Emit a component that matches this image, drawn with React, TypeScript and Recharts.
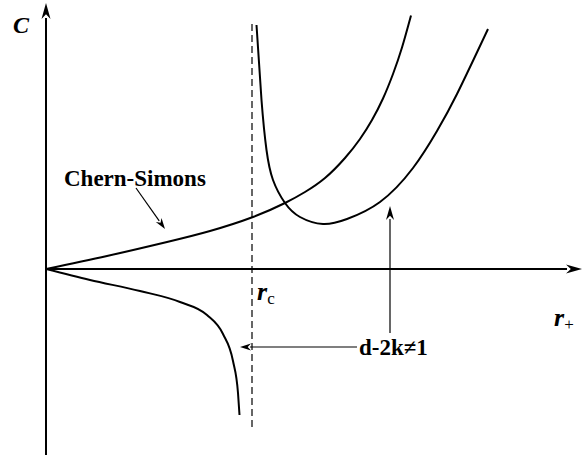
import { ComposedChart, Line, XAxis, YAxis, ReferenceLine, ReferenceDot } from 'recharts';

// curves, in (r+, C) units
const chernSimons = [
    { r: 0, c: 0 }, { r: 1.22, c: 0.26 }, { r: 2.42, c: 0.54 }, { r: 3.28, c: 0.76 },
    { r: 4.14, c: 1.04 }, { r: 4.78, c: 1.32 }, { r: 5.18, c: 1.54 }, { r: 5.58, c: 1.82 },
    { r: 5.98, c: 2.22 }, { r: 6.28, c: 2.6 }, { r: 6.52, c: 2.98 }, { r: 6.74, c: 3.41 },
    { r: 6.94, c: 3.9 }, { r: 7.12, c: 4.43 }, { r: 7.3, c: 5.07 },
];
const rightBranch = [
    { r: 4.21, c: 4.88 }, { r: 4.31, c: 3.38 }, { r: 4.41, c: 2.38 }, { r: 4.54, c: 1.78 },
    { r: 4.78, c: 1.32 }, { r: 5.08, c: 1.04 }, { r: 5.54, c: 0.9 }, { r: 6.02, c: 1.0 },
    { r: 6.68, c: 1.34 }, { r: 7.34, c: 2.02 }, { r: 7.82, c: 2.76 }, { r: 8.22, c: 3.5 },
    { r: 8.84, c: 4.8 },
];
const lowerBranch = [
    { r: 0, c: 0 }, { r: 0.88, c: -0.22 }, { r: 1.88, c: -0.44 }, { r: 2.68, c: -0.66 },
    { r: 3.22, c: -0.92 }, { r: 3.54, c: -1.3 }, { r: 3.74, c: -1.84 }, { r: 3.84, c: -2.48 },
    { r: 3.87, c: -2.92 },
];

const X_DOMAIN = [0, 10.72];
const Y_DOMAIN = [-3.72, 5.32];
const R_C = 4.12;
const DASH_RANGE = [-3.16, 4.98];

// annotation arrows: [from, to]
const csPointer = [{ x: 1.8, y: 1.62 }, { x: 2.38, y: 0.8 }];
const dkPointer = [{ x: 6.22, y: -1.56 }, { x: 3.88, y: -1.56 }];
const upPointer = [{ x: 6.88, y: -1.28 }, { x: 6.88, y: 1.26 }];

const labels = [
    { text: 'Chern-Simons', x: 0.36, y: 1.66 },
    { text: 'd-2k\u22601', x: 6.26, y: -1.72 },
];

const FONT = '"Liberation Serif", "Times New Roman", serif';

function arrowShape(head: number, half: number, width: number) {
    return (p: any) => {
        const { x1, y1, x2, y2 } = p;
        const dx = x2 - x1, dy = y2 - y1;
        const len = Math.hypot(dx, dy) || 1;
        const ux = dx / len, uy = dy / len;
        const bx = x2 - ux * head, by = y2 - uy * head;
        const nx = -uy * half, ny = ux * half;
        return (
            <g>
                <line x1={x1} y1={y1} x2={bx + ux} y2={by + uy} stroke="#000" strokeWidth={width} />
                <polygon points={`${x2},${y2} ${bx + nx},${by + ny} ${bx + ux * head * 0.3},${by + uy * head * 0.3} ${bx - nx},${by - ny}`} fill="#000" />
            </g>
        );
    };
}

const textShape = (text: string, size: number) => (p: any) => (
    <text x={p.cx} y={p.cy} fontFamily={FONT} fontWeight="bold" fontSize={size} fill="#000">{text}</text>
);

const subShape = (main: string, sub: string) => (p: any) => (
    <text x={p.cx} y={p.cy} fontFamily={FONT} fontWeight="bold" fill="#000">
        <tspan fontStyle="italic" fontSize={26}>{main}</tspan>
        <tspan fontSize={17} fontWeight="normal" dy={4}>{sub}</tspan>
    </text>
);

export default function App() {
    return (
        <div style={{ position: 'absolute', left: 0, top: 0, background: '#fff' }}>
            <ComposedChart width={587} height={456} margin={{ top: 3, right: 5, bottom: 1, left: 46 }}>
                <XAxis type="number" dataKey="r" domain={X_DOMAIN} hide allowDataOverflow />
                <YAxis type="number" dataKey="c" domain={Y_DOMAIN} hide allowDataOverflow />

                {/* axes */}
                <ReferenceLine segment={[{ x: 0, y: Y_DOMAIN[0] }, { x: 0, y: Y_DOMAIN[1] }]} shape={arrowShape(16, 4.5, 2)} ifOverflow="visible" />
                <ReferenceLine segment={[{ x: 0, y: 0 }, { x: X_DOMAIN[1], y: 0 }]} shape={arrowShape(16, 4.5, 2)} ifOverflow="visible" />
                <ReferenceLine segment={[{ x: R_C, y: DASH_RANGE[0] }, { x: R_C, y: DASH_RANGE[1] }]} stroke="#000" strokeWidth={1.2} strokeDasharray="7 4" ifOverflow="visible" />

                <Line data={chernSimons} dataKey="c" type="natural" stroke="#000" strokeWidth={2} dot={false} isAnimationActive={false} />
                <Line data={rightBranch} dataKey="c" type="natural" stroke="#000" strokeWidth={2} dot={false} isAnimationActive={false} />
                <Line data={lowerBranch} dataKey="c" type="monotone" stroke="#000" strokeWidth={2} dot={false} isAnimationActive={false} />

                {/* pointers */}
                <ReferenceLine segment={csPointer} shape={arrowShape(11, 3.5, 1.2)} ifOverflow="visible" />
                <ReferenceLine segment={dkPointer} shape={arrowShape(11, 3.5, 1.2)} ifOverflow="visible" />
                <ReferenceLine segment={upPointer} shape={arrowShape(14, 4, 1.2)} ifOverflow="visible" />

                {labels.map((l) => (
                    <ReferenceDot key={l.text} x={l.x} y={l.y} r={0} shape={textShape(l.text, 23)} ifOverflow="visible" />
                ))}
                <ReferenceDot x={-0.66} y={4.72} r={0} shape={(p: any) => (
                    <text x={p.cx} y={p.cy} fontFamily={FONT} fontWeight="bold" fontStyle="italic" fontSize={24} fill="#000">C</text>
                )} ifOverflow="visible" />
                <ReferenceDot x={4.22} y={-0.62} r={0} shape={subShape('r', 'c')} ifOverflow="visible" />
                <ReferenceDot x={10.16} y={-1.14} r={0} shape={subShape('r', '+')} ifOverflow="visible" />
            </ComposedChart>
        </div>
    );
}
